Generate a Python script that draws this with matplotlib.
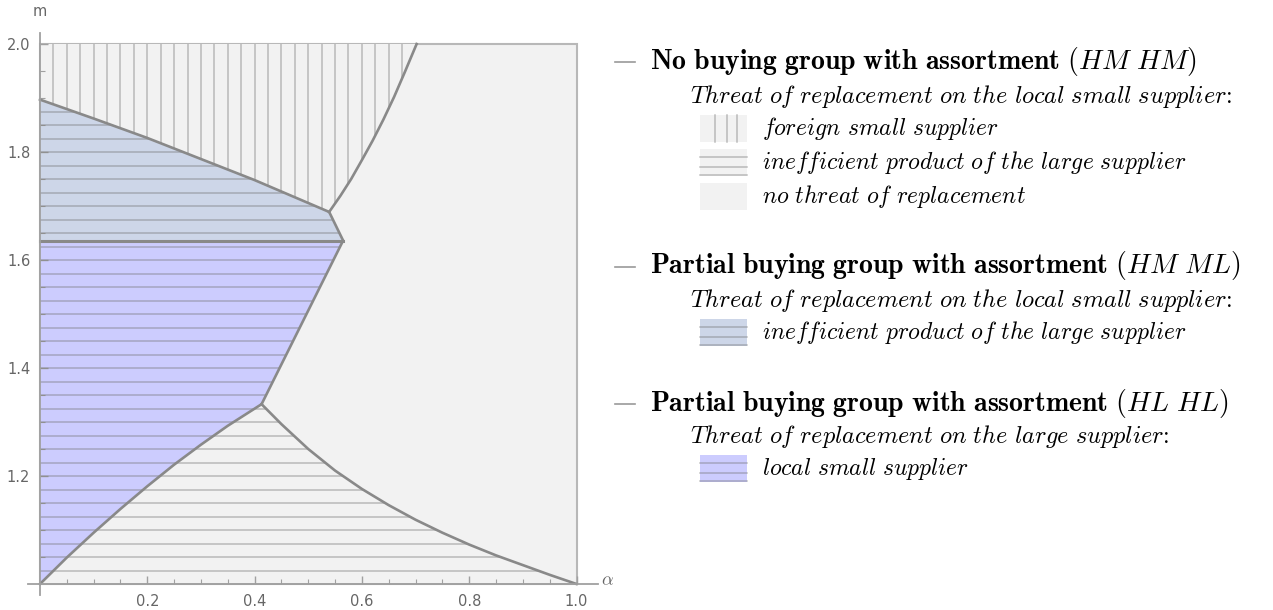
import numpy as np
import matplotlib
matplotlib.use("Agg")
import matplotlib.pyplot as plt
from matplotlib.patches import Polygon, Rectangle
from matplotlib.lines import Line2D

plt.rcParams['mathtext.fontset'] = 'cm'

# boundary curves (alpha, m)
upper_left_a = [0.0, 0.1, 0.2, 0.3, 0.4, 0.539]
upper_left_m = [1.897, 1.862, 1.826, 1.787, 1.748, 1.689]
top_right_a = [0.539, 0.56, 0.58, 0.60, 0.62, 0.64, 0.66, 0.68, 0.702]
top_right_m = [1.689, 1.719, 1.750, 1.785, 1.821, 1.860, 1.902, 1.948, 2.0]
nose_a, nose_m = 0.565, 1.636
lower_left_a = [0.0, 0.05, 0.1, 0.15, 0.2, 0.25, 0.3, 0.35, 0.413]
lower_left_m = [1.0, 1.049, 1.095, 1.139, 1.181, 1.221, 1.258, 1.293, 1.333]
lower_right_a = [0.413, 0.45, 0.5, 0.55, 0.6, 0.65, 0.7, 0.75, 0.8, 0.85, 0.9, 0.95, 1.0]
lower_right_m = [1.333, 1.296, 1.250, 1.210, 1.176, 1.146, 1.119, 1.095, 1.073, 1.053, 1.035, 1.017, 1.0]

x_ticks = [0.2, 0.4, 0.6, 0.8, 1.0]
y_ticks = [1.2, 1.4, 1.6, 1.8, 2.0]

header_texts = [r"$\mathbf{No\ buying\ group\ with\ assortment}\ (HM\ HM)$",
                r"$\mathbf{Partial\ buying\ group\ with\ assortment}\ (HM\ ML)$",
                r"$\mathbf{Partial\ buying\ group\ with\ assortment}\ (HL\ HL)$"]
threat_texts = [r"$\mathit{Threat\ of\ replacement\ on\ the\ local\ small\ supplier}$:",
                r"$\mathit{Threat\ of\ replacement\ on\ the\ local\ small\ supplier}$:",
                r"$\mathit{Threat\ of\ replacement\ on\ the\ large\ supplier}$:"]
item_texts = [r"$\mathit{foreign\ small\ supplier}$",
              r"$\mathit{inefficient\ product\ of\ the\ large\ supplier}$",
              r"$\mathit{no\ threat\ of\ replacement}$",
              r"$\mathit{inefficient\ product\ of\ the\ large\ supplier}$",
              r"$\mathit{local\ small\ supplier}$"]

BG = '#f2f2f2'
BLUEGRAY = '#cdd6e8'
VIOLET = '#ccccfe'
EDGE = '#898989'
HATCH = (0.45, 0.45, 0.45, 0.45)
W, H = 1273, 610


def fx(px):
    return px / W


def fy(py):
    return 1 - py / H


fig = plt.figure(figsize=(12.73, 6.10), dpi=100)
x0, x1 = -0.022, 1.04
y0, y1 = 0.98, 2.02
ax = fig.add_axes([fx(40 + x0 * 536.5), fy(584 - (y0 - 1) * 540),
                   (x1 - x0) * 536.5 / W, (y1 - y0) * 540 / H])
ax.set_xlim(x0, x1)
ax.set_ylim(y0, y1)
ax.patch.set_alpha(0)

ax.add_patch(Rectangle((0, 1), 1, 1, facecolor=BG, edgecolor='#b8b8b8', lw=1.5, zorder=0))

reg_a = list(zip(upper_left_a, upper_left_m)) + list(zip(top_right_a[1:], top_right_m[1:])) + [(0, 2.0)]
reg_b = [(0, nose_m), (nose_a, nose_m)] + list(zip(upper_left_a[::-1], upper_left_m[::-1]))
reg_c = list(zip(lower_left_a, lower_left_m)) + [(nose_a, nose_m), (0, nose_m)]
reg_d = list(zip(lower_left_a, lower_left_m)) + list(zip(lower_right_a[1:], lower_right_m[1:]))

hgrid = np.arange(1.0, 2.0001, 0.025)
vgrid = np.arange(0.025, 1.0, 0.025)

for pts, col, kind in [(reg_a, BG, 'v'), (reg_b, BLUEGRAY, 'h'),
                       (reg_c, VIOLET, 'h'), (reg_d, BG, 'h')]:
    poly = Polygon(pts, closed=True, facecolor=col, edgecolor='none', zorder=1)
    ax.add_patch(poly)
    if kind == 'h':
        lc = ax.hlines(hgrid, 0, 1, colors=[HATCH], lw=1.1, zorder=2)
    else:
        lc = ax.vlines(vgrid, 1, 2, colors=[HATCH], lw=1.1, zorder=2)
    lc.set_clip_path(poly)

# region boundaries
ax.plot(upper_left_a, upper_left_m, color=EDGE, lw=1.9, zorder=3)
ax.plot(top_right_a, top_right_m, color=EDGE, lw=1.9, zorder=3)
ax.plot([upper_left_a[-1], nose_a, lower_left_a[-1]],
        [upper_left_m[-1], nose_m, lower_left_m[-1]], color=EDGE, lw=1.9, zorder=3)
ax.plot([0, nose_a], [nose_m, nose_m], color=EDGE, lw=2.2, zorder=3)
ax.plot(lower_left_a, lower_left_m, color=EDGE, lw=1.9, zorder=3)
ax.plot(lower_right_a, lower_right_m, color=EDGE, lw=1.9, zorder=3)

# Mathematica-like axes
for s in ['top', 'right']:
    ax.spines[s].set_visible(False)
ax.spines['left'].set_position(('data', 0))
ax.spines['bottom'].set_position(('data', 1))
for s in ['left', 'bottom']:
    ax.spines[s].set_color('#a0a0a0')
    ax.spines[s].set_linewidth(1.3)
    ax.spines[s].set_zorder(4)
ax.set_xticks(x_ticks)
ax.set_yticks(y_ticks)
ax.set_xticks(np.arange(0.05, 1.0001, 0.05), minor=True)
ax.set_yticks(np.arange(1.05, 2.0001, 0.05), minor=True)
ax.xaxis.set_major_formatter(matplotlib.ticker.FormatStrFormatter('%.1f'))
ax.yaxis.set_major_formatter(matplotlib.ticker.FormatStrFormatter('%.1f'))
ax.tick_params(which='major', direction='in', length=6, width=1, color='#a0a0a0',
               labelcolor='#666666', labelsize=10.5, pad=7)
ax.tick_params(which='minor', direction='in', length=3.5, width=0.8, color='#a0a0a0')

fig.text(fx(40), fy(12), 'm', color='#666666', fontsize=10.5, ha='center', va='center')
fig.text(fx(607), fy(580), r'$\alpha$', color='#666666', fontsize=13, ha='center', va='center')

# legend
header_y = [61, 266, 403]
threat_y = [96, 300, 437]
item_y = [129, 163, 197, 333, 469]
item_fill = [BG, BG, BG, BLUEGRAY, VIOLET]
item_hatch = ['v', 'h', None, 'h', 'h']

for txt, py in zip(header_texts, header_y):
    fig.add_artist(Line2D([fx(615), fx(635)], [fy(py + 1), fy(py + 1)], color='#9a9a9a', lw=1.2))
    fig.text(fx(650), fy(py), txt, fontsize=20, ha='left', va='center')
for txt, py in zip(threat_texts, threat_y):
    fig.text(fx(690), fy(py), txt, fontsize=17.5, ha='left', va='center', family='cmr10')
for txt, py, col, hk in zip(item_texts, item_y, item_fill, item_hatch):
    top, bot, left, right = py - 14, py + 13, 700, 747
    fig.add_artist(Rectangle((fx(left), fy(bot)), fx(right) - fx(left), fy(top) - fy(bot),
                             facecolor=col, edgecolor='none'))
    if hk == 'v':
        for f in [0.32, 0.57, 0.79]:
            xx = fx(left + f * (right - left))
            fig.add_artist(Line2D([xx, xx], [fy(bot), fy(top)], color=HATCH, lw=1.1))
    elif hk == 'h':
        for f in [0.3, 0.65, 0.97]:
            yy = fy(top + f * (bot - top))
            fig.add_artist(Line2D([fx(left), fx(right)], [yy, yy], color=HATCH, lw=1.1))
    fig.text(fx(762), fy(py), txt, fontsize=17, ha='left', va='center')

fig.savefig('out.png', dpi=100)
